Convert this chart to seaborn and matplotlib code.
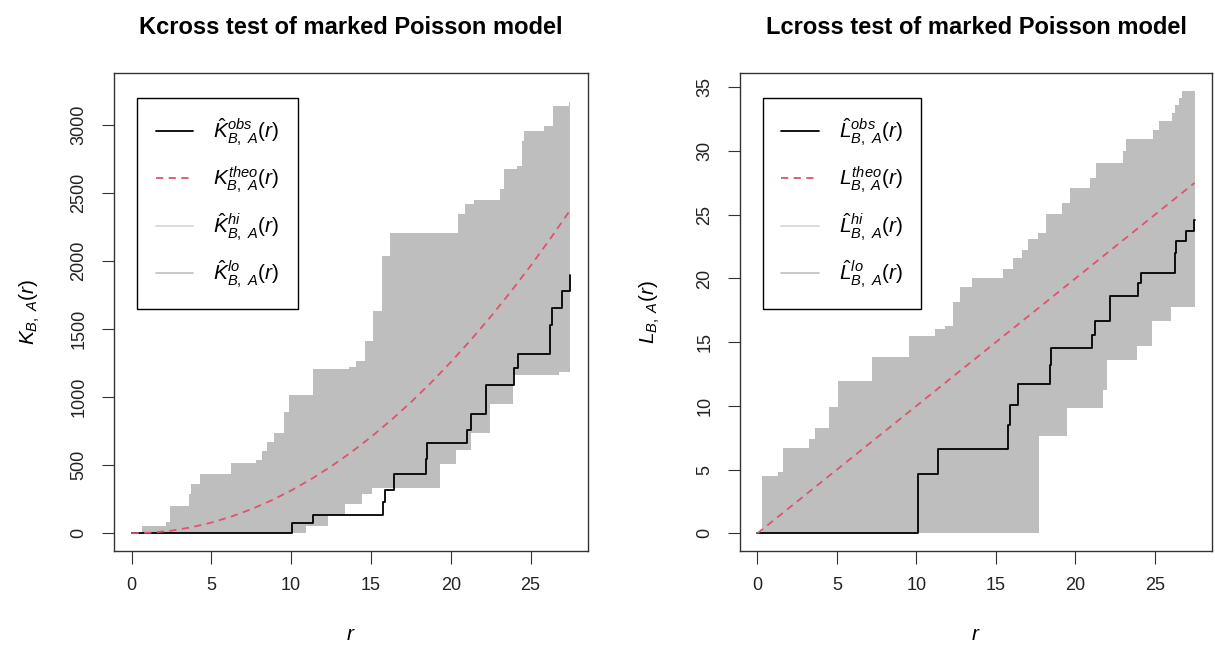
import numpy as np
import pandas as pd
import matplotlib
matplotlib.use("Agg")
import matplotlib.pyplot as plt
import seaborn as sns
from matplotlib.lines import Line2D

# ---------------- data ----------------
R_MAX = 27.5

# Kcross panel
k_obs_r = [0, 10.08, 11.40, 15.78, 15.85, 16.42, 18.42, 18.50, 21.03, 21.24, 22.18, 23.95, 24.20, 26.25, 26.35, 26.97, 27.45]
k_obs_v = [0, 72, 138, 228, 315, 435, 549, 664, 760, 875, 1090, 1212, 1320, 1530, 1655, 1778, 1900]

k_hi_r = [0, 0.67, 2.13, 2.44, 3.59, 3.70, 4.26, 6.20, 7.77, 8.19, 8.50, 8.92, 9.55, 9.86, 11.38, 13.62, 14.04,
          14.64, 15.15, 15.70, 16.17, 20.48, 20.90, 21.45, 23.10, 23.33, 24.16, 24.45, 24.58, 25.84, 26.42, 27.40, 27.48]
k_hi_v = [0, 55, 81, 197, 291, 360, 433, 517, 537, 606, 672, 739, 894, 1017, 1207, 1220, 1264,
          1409, 1635, 2035, 2205, 2347, 2420, 2449, 2528, 2675, 2700, 2884, 2955, 2990, 3140, 3165, 3250]

k_lo_r = [0, 10.90, 12.30, 13.40, 14.45, 15.08, 19.30, 20.30, 21.24, 22.49, 23.90, 26.80]
k_lo_v = [0, 55, 138, 217, 290, 330, 512, 615, 735, 947, 1163, 1188]

k_theo_r = [0, 1.25, 2.5, 3.75, 5, 6.25, 7.5, 8.75, 10, 11.25, 12.5, 13.75, 15, 16.25, 17.5,
            18.75, 20, 21.25, 22.5, 23.75, 25, 26.25, 27.5]
k_theo_v = [0, 4.9, 19.6, 44.2, 78.5, 122.7, 176.7, 240.5, 314.2, 397.6, 490.9, 594.0, 706.9,
            829.6, 962.1, 1104.5, 1256.6, 1418.6, 1590.4, 1772.1, 1963.5, 2164.8, 2375.8]

# Lcross panel
l_obs_r = [0, 10.07, 11.39, 15.79, 15.90, 16.41, 18.40, 18.50, 21.02, 21.23, 22.17, 23.95, 24.16, 26.26, 26.36, 26.95, 27.45]
l_obs_v = [0, 4.66, 6.60, 8.47, 10.05, 11.73, 13.20, 14.52, 15.56, 16.67, 18.64, 19.64, 20.47, 22.00, 22.92, 23.70, 24.57]

l_hi_r = [0, 0.30, 1.28, 1.59, 3.27, 3.64, 4.48, 5.07, 7.20, 9.55, 11.17, 11.82, 12.30, 12.72, 13.52, 15.43, 16.06,
          16.62, 17.02, 17.67, 18.18, 19.14, 19.66, 20.90, 21.30, 22.97, 23.18, 24.86, 25.28, 26.11, 26.30, 26.50, 26.70]
l_hi_v = [0, 4.53, 4.79, 6.68, 7.42, 8.25, 9.91, 11.94, 13.85, 15.50, 16.04, 16.27, 18.14, 19.37, 20.03, 20.74, 21.60,
          22.26, 23.12, 23.60, 25.07, 25.96, 27.12, 27.90, 29.09, 30.00, 30.93, 31.64, 32.37, 33.00, 33.60, 34.20, 34.74]

l_lo_r = [0, 17.71, 19.45, 21.76, 21.97, 23.91, 24.83, 26.00]
l_lo_v = [0, 7.63, 9.87, 11.28, 13.59, 14.72, 16.69, 17.75]

l_theo_r = [0, 27.5]
l_theo_v = [0, 27.5]

x_ticks = [0, 5, 10, 15, 20, 25]
k_yticks = [0, 500, 1000, 1500, 2000, 2500, 3000]
l_yticks = [0, 5, 10, 15, 20, 25, 30, 35]

titles = ["Kcross test of marked Poisson model", "Lcross test of marked Poisson model"]
k_labels = [r"$\hat{K}^{obs}_{B,\ A}(r)$", r"$K^{theo}_{B,\ A}(r)$",
            r"$\hat{K}^{hi}_{B,\ A}(r)$", r"$\hat{K}^{lo}_{B,\ A}(r)$"]
l_labels = [r"$\hat{L}^{obs}_{B,\ A}(r)$", r"$L^{theo}_{B,\ A}(r)$",
            r"$\hat{L}^{hi}_{B,\ A}(r)$", r"$\hat{L}^{lo}_{B,\ A}(r)$"]
ylabels = [r"$K_{B,\ A}(r)$", r"$L_{B,\ A}(r)$"]

# ---------------- style ----------------
sns.set_style("white")
plt.rcParams["font.family"] = ["Liberation Sans", "DejaVu Sans"]
plt.rcParams["mathtext.fontset"] = "custom"
plt.rcParams["mathtext.rm"] = "Liberation Sans"
plt.rcParams["mathtext.it"] = "Liberation Sans:italic"
plt.rcParams["mathtext.bf"] = "Liberation Sans:bold"
plt.rcParams["text.color"] = "black"
plt.rcParams["axes.labelcolor"] = "black"

SHADE = "#bebebe"
RED = "#DF536B"

W, H = 1215, 646
fig = plt.figure(figsize=(W / 100, H / 100), dpi=100)


def step_eval(rs, vs, grid):
    idx = np.searchsorted(np.asarray(rs), grid, side="right") - 1
    return np.asarray(vs)[idx]


def panel(ax, obs_r, obs_v, hi_r, hi_v, lo_r, lo_v, th_r, th_v, yticks, labels, ylabel, title,
          title_x, ylabel_x, ticklab_size=13):
    grid = np.unique(np.concatenate([hi_r, lo_r, [R_MAX]]))
    hi_g = step_eval(hi_r, hi_v, grid)
    lo_g = step_eval(lo_r, lo_v, grid)
    ax.fill_between(grid, lo_g, hi_g, step="post", color=SHADE, linewidth=0, zorder=1)

    obs = pd.DataFrame({"r": list(obs_r) + [R_MAX], "v": list(obs_v) + [obs_v[-1]]})
    sns.lineplot(data=obs, x="r", y="v", ax=ax, color="black", linewidth=1.3,
                 drawstyle="steps-post", zorder=3)
    th = pd.DataFrame({"r": th_r, "v": th_v})
    sns.lineplot(data=th, x="r", y="v", ax=ax, color=RED, linewidth=1.3,
                 linestyle=(0, (4, 3)), zorder=3)

    ymax = max(max(hi_v), max(obs_v))
    ax.set_xlim(-0.04 * R_MAX, R_MAX * 1.04)
    ax.set_ylim(-0.04 * ymax, ymax * 1.04)
    ax.set_xticks(x_ticks)
    ax.set_yticks(yticks)
    ax.set_xticklabels([str(t) for t in x_ticks], fontsize=ticklab_size)
    ax.set_yticklabels([str(t) for t in yticks], fontsize=ticklab_size, rotation=90, va="center")
    ax.tick_params(direction="out", length=9, width=0.8, pad=10, colors="#333333",
                   labelcolor="#222222", bottom=True, left=True)
    for s in ax.spines.values():
        s.set_visible(True)
        s.set_color("#333333")
        s.set_linewidth(1.0)
    ax.set_xlabel(r"$r$", fontsize=15, va="center")
    ax.set_ylabel(ylabel, fontsize=15, va="center")
    ax.xaxis.set_label_coords(0.5, (551 - 634) / 478)
    ax.yaxis.set_label_coords(ylabel_x, 0.5)

    handles = [Line2D([], [], color="black", lw=1.3),
               Line2D([], [], color=RED, lw=1.3, linestyle=(0, (4, 3))),
               Line2D([], [], color="#d9d9d9", lw=1.3),
               Line2D([], [], color="#c4c4c4", lw=1.3)]
    leg = ax.legend(handles, labels, loc="upper left", bbox_to_anchor=(0.048, 0.948),
                    borderaxespad=0, fontsize=15, frameon=True, fancybox=False,
                    edgecolor="black", framealpha=1, handlelength=1.8, handletextpad=0.95,
                    labelspacing=0.8, borderpad=0.9)
    leg.get_frame().set_linewidth(1.0)
    fig.text(title_x / W, 1 - 28 / H, title, ha="center", va="center",
             fontsize=17, fontweight="bold")


ax1 = fig.add_axes([114 / W, (H - 551) / H, 474 / W, 478 / H])
ax2 = fig.add_axes([740 / W, (H - 551) / H, 472 / W, 478 / H])

panel(ax1, k_obs_r, k_obs_v, k_hi_r, k_hi_v, k_lo_r, k_lo_v, k_theo_r, k_theo_v,
      k_yticks, k_labels, ylabels[0], titles[0], 351, (30 - 114) / 474)
panel(ax2, l_obs_r, l_obs_v, l_hi_r, l_hi_v, l_lo_r, l_lo_v, l_theo_r, l_theo_v,
      l_yticks, l_labels, ylabels[1], titles[1], 976, (650 - 740) / 472)

fig.savefig("out.png", dpi=100, facecolor="white")
